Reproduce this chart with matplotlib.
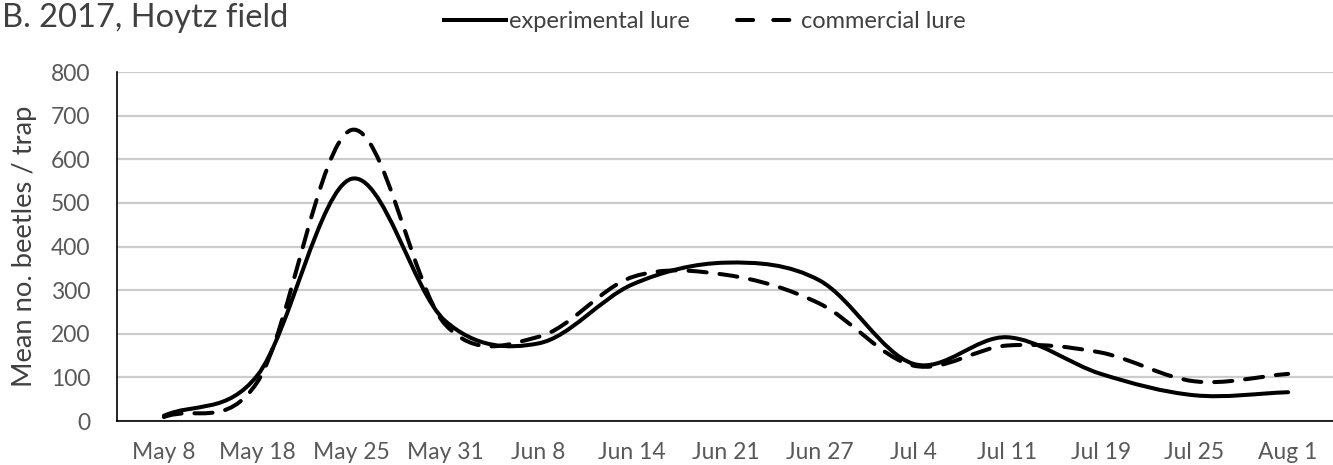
import matplotlib
matplotlib.use('Agg')
import matplotlib.pyplot as plt
from matplotlib.path import Path
from matplotlib.patches import PathPatch
from matplotlib.lines import Line2D
import numpy as np

# data
dates = ['May 8', 'May 18', 'May 25', 'May 31', 'Jun 8', 'Jun 14', 'Jun 21',
         'Jun 27', 'Jul 4', 'Jul 11', 'Jul 19', 'Jul 25', 'Aug 1']
experimental = [12, 105, 555, 230, 178, 313, 363, 322, 131, 192, 108, 59, 66]
commercial = [9, 90, 667, 222, 193, 330, 335, 269, 127, 173, 157, 91, 108]

plt.rcParams['font.family'] = ['Lato', 'DejaVu Sans']


def smooth_path(xs, ys):
    # Excel-style smoothed line: cubic bezier segments between data points
    pts = np.column_stack([xs, ys]).astype(float)
    n = len(pts)
    verts = [pts[0]]
    codes = [Path.MOVETO]
    for i in range(n - 1):
        prev = pts[i - 1] if i > 0 else 2 * pts[0] - pts[1]
        nxt = pts[i + 2] if i + 2 < n else 2 * pts[-1] - pts[-2]
        c1 = pts[i] + (pts[i + 1] - prev) / 6
        c2 = pts[i + 1] - (nxt - pts[i]) / 6
        verts += [c1, c2, pts[i + 1]]
        codes += [Path.CURVE4] * 3
    return Path(verts, codes)


fig = plt.figure(figsize=(13.33, 4.65), dpi=100)
ax = fig.add_axes([117 / 1333, 44 / 465, 1218 / 1333, 349 / 465])

x = np.arange(len(dates))
ax.add_patch(PathPatch(smooth_path(x, experimental), fill=False, edgecolor='black',
                       lw=2.9, capstyle='round', joinstyle='round', zorder=3))
ax.add_patch(PathPatch(smooth_path(x, commercial), fill=False, edgecolor='black',
                       lw=2.9, linestyle=(0, (4.5, 3.2)), capstyle='round', zorder=3))

ax.set_xlim(-0.5, len(dates) - 0.5)
ax.set_ylim(0, 800)
ax.set_yticks(range(0, 801, 100))
ax.set_xticks(x)
ax.set_xticklabels(dates)
ax.yaxis.grid(True, color='#cccccc', lw=1.6)
ax.set_axisbelow(True)
ax.tick_params(axis='both', length=0, labelsize=16.5, labelcolor='#595959')
ax.tick_params(axis='y', pad=19)
ax.tick_params(axis='x', pad=15)
for s in ['top', 'right']:
    ax.spines[s].set_visible(False)
for s in ['left', 'bottom']:
    ax.spines[s].set_color('black')
    ax.spines[s].set_linewidth(1.2)

ax.set_ylabel('Mean no. beetles / trap', fontsize=19.7, color='#404040', labelpad=10)

fig.text(2 / 1333, 1 - 18 / 465, 'B. 2017, Hoytz field', fontsize=23.5,
         color='#404040', ha='left', va='center')

handles = [Line2D([], [], color='black', lw=2.9),
           Line2D([], [], color='black', lw=2.9, linestyle=(0, (4.0, 5.0)),
                  dash_capstyle='round')]
fig.legend(handles, ['experimental lure', 'commercial lure'], loc='center',
           bbox_to_anchor=(705 / 1333, 1 - 22 / 465), ncol=2, frameon=False,
           fontsize=17, handlelength=2.6, handletextpad=0.12, columnspacing=2.0,
           labelcolor='#404040')

fig.savefig('out.png', dpi=100)
